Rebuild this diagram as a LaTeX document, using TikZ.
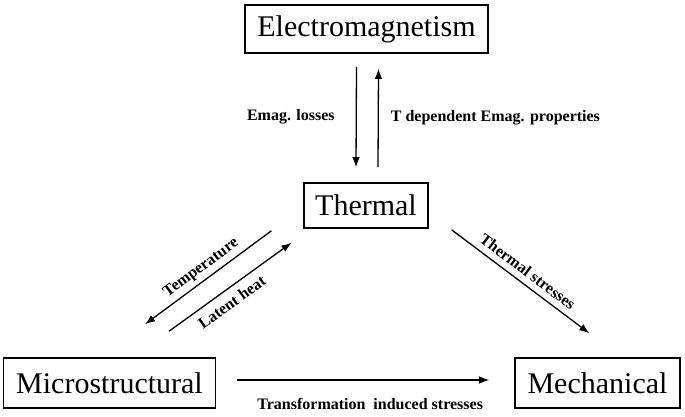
\documentclass[tikz,border=0pt]{standalone}
\usepackage{fontspec}
\setmainfont{Liberation Serif}
\usepackage{tikz}
\usetikzlibrary{calc,arrows.meta}
\tikzset{>=latex}

\begin{document}
\begin{tikzpicture}[x=1pt,y=-1pt,
  field/.style={draw, line width=1.6pt, inner xsep=12.5pt, minimum height=48pt, font=\fontsize{30}{31}\selectfont},
  link/.style={->, line width=1.3pt, >={Latex[length=10pt,width=7.5pt]}},
  lbl/.style={font=\fontsize{16}{17}\selectfont\bfseries, inner sep=0pt}]
\useasboundingbox (0,0) rectangle (685,417);
\node[field] (em) at (366.5,29) {Electromagnetism};
\node[field, minimum height=45pt, inner xsep=11pt] (th) at (366,205.5) {Thermal};
\node[field, minimum height=50pt] (mi) at (109.5,383) {Microstructural};
\node[field, minimum height=50pt] (me) at (597.5,383) {Mechanical};
\draw[link] ($(em.south)+(-10,13)$) -- node[lbl, left=21pt] {Emag. losses} ($(th.north)+(-10,-15)$);
\draw[link] ($(th.north)+(12,-15)$) -- node[lbl, right=12pt] {T dependent Emag. properties} ($(em.south)+(12,15)$);
\draw[link] ($(th.south west)+(-32,2)$) -- node[lbl, sloped, above=4pt] {Temperature} ($(mi.north east)+(-71,-33)$);
\draw[link] ($(mi.north east)+(-47,-26)$) -- node[lbl, sloped, below=7pt, pos=0.45] {Latent heat} ($(th.south west)+(-12,14)$);
\draw[link] ($(th.south east)+(23,1)$) -- node[lbl, sloped, above=6pt] {Thermal stresses} ($(me.north west)+(75,-24)$);
\draw[link] ($(mi.east)+(21,-3)$) -- node[lbl, below=18pt, xshift=7pt] {Transformation\ \ induced stresses} ($(me.west)+(-25,-3)$);
\end{tikzpicture}
\end{document}
